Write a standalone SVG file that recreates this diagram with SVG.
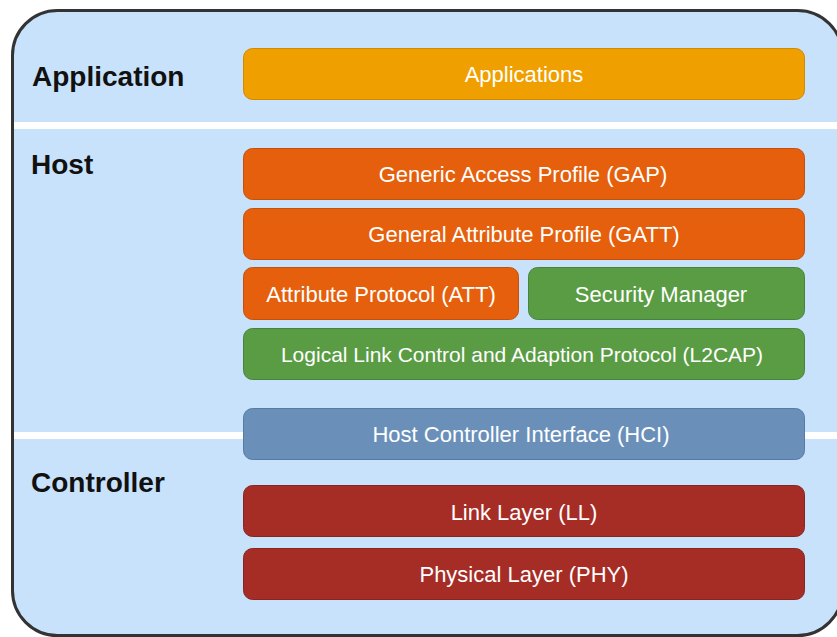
<svg xmlns="http://www.w3.org/2000/svg" width="837" height="637" viewBox="0 0 837 637">
<style>
.lbl{font-family:"Liberation Sans",Arial,sans-serif;font-size:28px;font-weight:bold;fill:#111}
.bt{font-family:"Liberation Sans",Arial,sans-serif;font-size:22px;fill:#fff;text-anchor:middle}
.sm{font-size:21px}
.app{fill:#f09f00;stroke:#d08a00;stroke-width:1}
.org{fill:#e55f0c;stroke:#c4500c;stroke-width:1}
.grn{fill:#5a9c43;stroke:#47843a;stroke-width:1}
.hci{fill:#6a90ba;stroke:#557ca6;stroke-width:1}
.red{fill:#a62d26;stroke:#872520;stroke-width:1}
</style>
<g id="frame">
<rect x="12.5" y="10.5" width="830" height="625" rx="45" fill="#c9e2fc" stroke="#333" stroke-width="3"/>
<rect x="14" y="122" width="823" height="7" fill="#fff"/>
<rect x="14" y="432" width="823" height="7" fill="#fff"/>
</g>
<g id="layer-labels">
<text class="lbl" x="32" y="86">Application</text>
<text class="lbl" x="31" y="174">Host</text>
<text class="lbl" x="31" y="492">Controller</text>
</g>
<g id="applications"><rect class="app" x="243.5" y="48.5" width="561" height="51" rx="9"/><text class="bt" x="524" y="82">Applications</text></g>
<g id="gap"><rect class="org" x="243.5" y="148.5" width="561" height="51" rx="9"/><text class="bt" x="523" y="182">Generic Access Profile (GAP)</text></g>
<g id="gatt"><rect class="org" x="243.5" y="208.5" width="561" height="51" rx="9"/><text class="bt" x="524" y="242">General Attribute Profile (GATT)</text></g>
<g id="att"><rect class="org" x="243.5" y="267.5" width="275" height="52" rx="9"/><text class="bt" x="381" y="301.5">Attribute Protocol (ATT)</text></g>
<g id="security-manager"><rect class="grn" x="528.5" y="267.5" width="276" height="52" rx="9"/><text class="bt" x="661" y="301.5">Security Manager</text></g>
<g id="l2cap"><rect class="grn" x="243.5" y="328.5" width="561" height="51" rx="9"/><text class="bt sm" x="522" y="361.5">Logical Link Control and Adaption Protocol (L2CAP)</text></g>
<g id="hci"><rect class="hci" x="243.5" y="408.5" width="561" height="51" rx="9"/><text class="bt" x="521" y="442">Host Controller Interface (HCI)</text></g>
<g id="ll"><rect class="red" x="243.5" y="485.5" width="561" height="51" rx="9"/><text class="bt" x="524" y="520">Link Layer (LL)</text></g>
<g id="phy"><rect class="red" x="243.5" y="548.5" width="561" height="51" rx="9"/><text class="bt" x="524" y="582">Physical Layer (PHY)</text></g>
<g id="connectors"></g>
</svg>
